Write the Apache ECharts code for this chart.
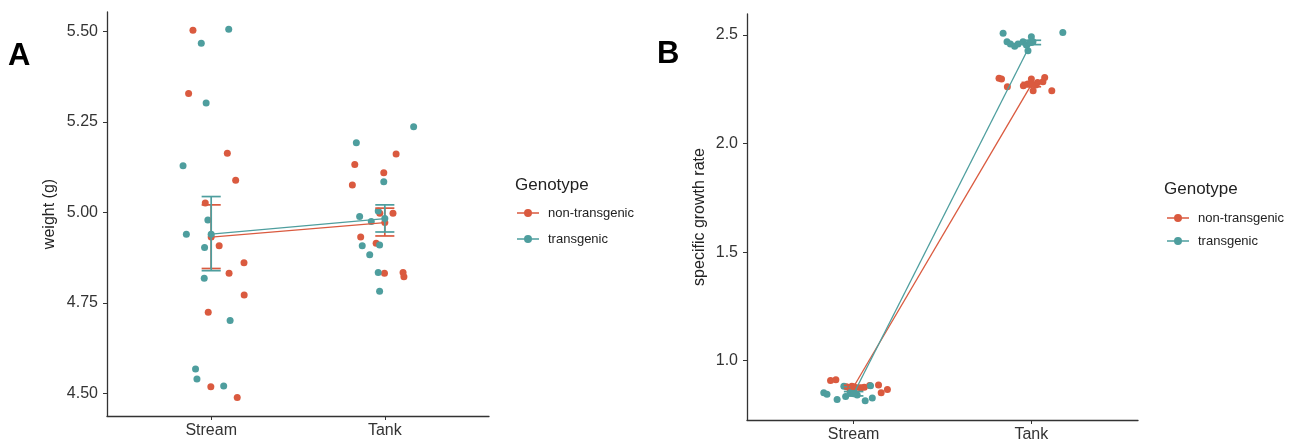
<!DOCTYPE html>
<html lang="en">
<head>
    <meta charset="UTF-8">
    <title>Genotype weight / growth</title>
    <script src="https://cdn.jsdelivr.net/npm/echarts@6/dist/echarts.min.js"></script>
    <style>
        body { margin: 0; background: #fff; }
    </style>
</head>
<body>
<div id="main" style="width: 1298px;height:443px;"></div>
<script type="text/javascript">
    var categories = ['Stream', 'Tank'];
    var genotypes = ['non-transgenic', 'transgenic'];

    // panel A - weight (g); each point is [jitter offset from category, value]
    var weightNonTgStream = [[-0.105, 5.504], [-0.130, 5.329], [0.093, 5.164], [0.141, 5.089], [-0.034, 5.026], [0.046, 4.908],
        [0.189, 4.861], [0.103, 4.832], [0.190, 4.772], [-0.017, 4.724], [-0.002, 4.518], [0.150, 4.488]];
    var weightTgStream = [[0.101, 5.507], [-0.057, 5.468], [-0.029, 5.303], [-0.162, 5.129], [-0.019, 4.979], [-0.143, 4.940],
        [-0.038, 4.903], [-0.040, 4.818], [0.109, 4.701], [-0.090, 4.567], [-0.082, 4.539], [0.072, 4.520]];
    var weightNonTgTank = [[0.065, 5.162], [-0.173, 5.133], [-0.006, 5.110], [-0.187, 5.076], [0.047, 4.998], [-0.029, 4.998],
        [-0.139, 4.932], [-0.050, 4.915], [-0.002, 4.832], [0.105, 4.834], [0.110, 4.822]];
    var weightTgTank = [[-0.164, 5.193], [-0.006, 5.085], [-0.145, 4.989], [-0.038, 5.004], [-0.078, 4.975], [-0.130, 4.908],
        [-0.087, 4.883], [-0.030, 4.910], [-0.038, 4.834], [-0.030, 4.782], [0.166, 5.237]];
    // [mean, lower, upper] for Stream, Tank
    var weightNonTgSummary = [[4.932, 4.845, 5.021], [4.972, 4.935, 5.012]];
    var weightTgSummary = [[4.940, 4.839, 5.044], [4.983, 4.946, 5.021]];
    var weightTicks = [4.5, 4.75, 5.0, 5.25, 5.5];

    // panel B - specific growth rate
    var sgrNonTgStream = [[-0.130, 0.909], [-0.100, 0.912], [-0.040, 0.880], [-0.010, 0.882], [0.010, 0.876], [0.040, 0.874],
        [0.060, 0.878], [0.090, 0.886], [0.140, 0.888], [0.155, 0.852], [0.190, 0.868], [-0.020, 0.870]];
    var sgrTgStream = [[-0.168, 0.852], [-0.150, 0.846], [-0.093, 0.821], [-0.055, 0.883], [-0.045, 0.835], [-0.020, 0.850],
        [0.000, 0.860], [0.020, 0.842], [0.065, 0.816], [0.095, 0.885], [0.105, 0.828], [-0.010, 0.870]];
    var sgrNonTgTank = [[-0.182, 2.301], [-0.168, 2.298], [-0.135, 2.262], [-0.045, 2.266], [-0.020, 2.275], [0.000, 2.298],
        [0.010, 2.244], [0.035, 2.282], [0.065, 2.285], [0.075, 2.305], [0.115, 2.244], [0.025, 2.270]];
    var sgrTgTank = [[-0.159, 2.508], [0.177, 2.512], [-0.137, 2.469], [-0.118, 2.459], [-0.094, 2.449], [-0.075, 2.459],
        [-0.047, 2.469], [-0.028, 2.454], [-0.019, 2.428], [0.000, 2.492], [0.009, 2.469], [-0.010, 2.465]];
    var sgrNonTgSummary = [[0.880, 0.873, 0.887], [2.272, 2.262, 2.282]];
    var sgrTgSummary = [[0.848, 0.838, 0.858], [2.466, 2.456, 2.476]];
    var sgrTicks = [1.0, 1.5, 2.0, 2.5];

    var colors = ['#DA5A3F', '#4E9E9E'];
    var capHalf = 0.055;
    var font = 'Liberation Sans, Arial, sans-serif';
    // line with a dot; both sub-paths clockwise so the dot stays filled
    var legendIcon = 'path://M0,3.2H22V4.8H0Z M7,4A4,4,0,1,1,15,4A4,4,0,1,1,7,4Z';

    function jitterPoints(stream, tank) {
        var pts = [];
        stream.forEach(function (p) { pts.push([0 + p[0], p[1]]); });
        tank.forEach(function (p) { pts.push([1 + p[0], p[1]]); });
        return pts;
    }

    function errorBar(params, api) {
        var x = api.value(0);
        var lo = api.coord([x, api.value(1)]);
        var hi = api.coord([x, api.value(2)]);
        var l = api.coord([x - capHalf, api.value(1)])[0];
        var r = api.coord([x + capHalf, api.value(1)])[0];
        var style = {stroke: api.visual('color'), lineWidth: 1.7};
        return {
            type: 'group',
            children: [
                {type: 'line', shape: {x1: hi[0], y1: hi[1], x2: lo[0], y2: lo[1]}, style: style},
                {type: 'line', shape: {x1: l, y1: hi[1], x2: r, y2: hi[1]}, style: style},
                {type: 'line', shape: {x1: l, y1: lo[1], x2: r, y2: lo[1]}, style: style}
            ]
        };
    }

    function panelSeries(idx, groups) {
        var out = [];
        groups.forEach(function (g, gi) {
            out.push({
                name: genotypes[gi], type: 'scatter', xAxisIndex: idx, yAxisIndex: idx,
                symbolSize: 7, itemStyle: {color: colors[gi], opacity: 1}, z: 2,
                data: jitterPoints(g.stream, g.tank)
            });
        });
        groups.forEach(function (g, gi) {
            out.push({
                name: genotypes[gi], type: 'line', xAxisIndex: idx, yAxisIndex: idx,
                symbol: 'circle', symbolSize: 7, showSymbol: true, z: 3 + gi,
                itemStyle: {color: colors[gi]}, lineStyle: {color: colors[gi], width: 1.3},
                data: g.summary.map(function (s, i) { return [i, s[0]]; })
            });
            out.push({
                name: genotypes[gi], type: 'custom', xAxisIndex: idx, yAxisIndex: idx, z: 3 + gi,
                itemStyle: {color: colors[gi]}, renderItem: errorBar,
                encode: {x: 0, y: [1, 2]},
                data: g.summary.map(function (s, i) { return [i, s[1], s[2]]; })
            });
        });
        return out;
    }

    function xAxisFor(idx) {
        return {
            type: 'value', gridIndex: idx, min: -0.6, max: 1.6,
            splitLine: {show: false},
            axisLine: {onZero: false, lineStyle: {color: '#333', width: 1.3}},
            axisTick: {customValues: [0, 1], length: 4, lineStyle: {color: '#333'}},
            axisLabel: {
                customValues: [0, 1], margin: 7, fontSize: 16, color: '#333', fontFamily: font,
                formatter: function (v) { return categories[Math.round(v)]; }
            }
        };
    }

    function yAxisFor(idx, min, max, ticks, digits, name, gap) {
        return {
            type: 'value', gridIndex: idx, min: min, max: max,
            name: name, nameLocation: 'middle', nameGap: gap,
            nameTextStyle: {fontSize: 16, color: '#222', fontFamily: font},
            splitLine: {show: false},
            axisLine: {show: true, onZero: false, lineStyle: {color: '#333', width: 1.3}},
            axisTick: {show: true, customValues: ticks, length: 4, lineStyle: {color: '#333'}},
            axisLabel: {
                customValues: ticks, margin: 9, fontSize: 16, color: '#333', fontFamily: font,
                formatter: function (v) { return v.toFixed(digits); }
            }
        };
    }

    var myChart = echarts.init(document.getElementById('main'));

    var option = {
        animation: false,
        backgroundColor: '#fff',
        title: [
            {text: 'A', left: 8, top: 41, padding: 0, textStyle: {fontSize: 31, fontWeight: 'bold', color: '#000', fontFamily: font}},
            {text: 'B', left: 657, top: 39, padding: 0, textStyle: {fontSize: 31, fontWeight: 'bold', color: '#000', fontFamily: font}},
            {text: 'Genotype', left: 515, top: 177, padding: 0, textStyle: {fontSize: 17, fontWeight: 'normal', color: '#222', fontFamily: font}},
            {text: 'Genotype', left: 1164, top: 181, padding: 0, textStyle: {fontSize: 17, fontWeight: 'normal', color: '#222', fontFamily: font}}
        ],
        legend: [
            {
                data: genotypes, orient: 'vertical', left: 517, top: 205, padding: 0,
                itemWidth: 22, itemHeight: 8, itemGap: 10, icon: legendIcon,
                itemStyle: {opacity: 1},
                textStyle: {fontSize: 13, color: '#222', fontFamily: font, lineHeight: 16, padding: [0, 0, 0, 4]}
            },
            {
                data: genotypes, orient: 'vertical', left: 1167, top: 210, padding: 0,
                itemWidth: 22, itemHeight: 8, itemGap: 7, icon: legendIcon,
                itemStyle: {opacity: 1},
                textStyle: {fontSize: 13, color: '#222', fontFamily: font, lineHeight: 16, padding: [0, 0, 0, 4]}
            }
        ],
        grid: [
            {left: 107, top: 12, width: 382, height: 404},
            {left: 747, top: 14, width: 391, height: 406}
        ],
        xAxis: [xAxisFor(0), xAxisFor(1)],
        yAxis: [
            yAxisFor(0, 4.437, 5.5545, weightTicks, 2, 'weight (g)', 49),
            yAxisFor(1, 0.727, 2.597, sgrTicks, 1, 'specific growth rate', 39)
        ],
        series: panelSeries(0, [
            {stream: weightNonTgStream, tank: weightNonTgTank, summary: weightNonTgSummary},
            {stream: weightTgStream, tank: weightTgTank, summary: weightTgSummary}
        ]).concat(panelSeries(1, [
            {stream: sgrNonTgStream, tank: sgrNonTgTank, summary: sgrNonTgSummary},
            {stream: sgrTgStream, tank: sgrTgTank, summary: sgrTgSummary}
        ]))
    };

    myChart.setOption(option);
</script>
</body>
</html>
